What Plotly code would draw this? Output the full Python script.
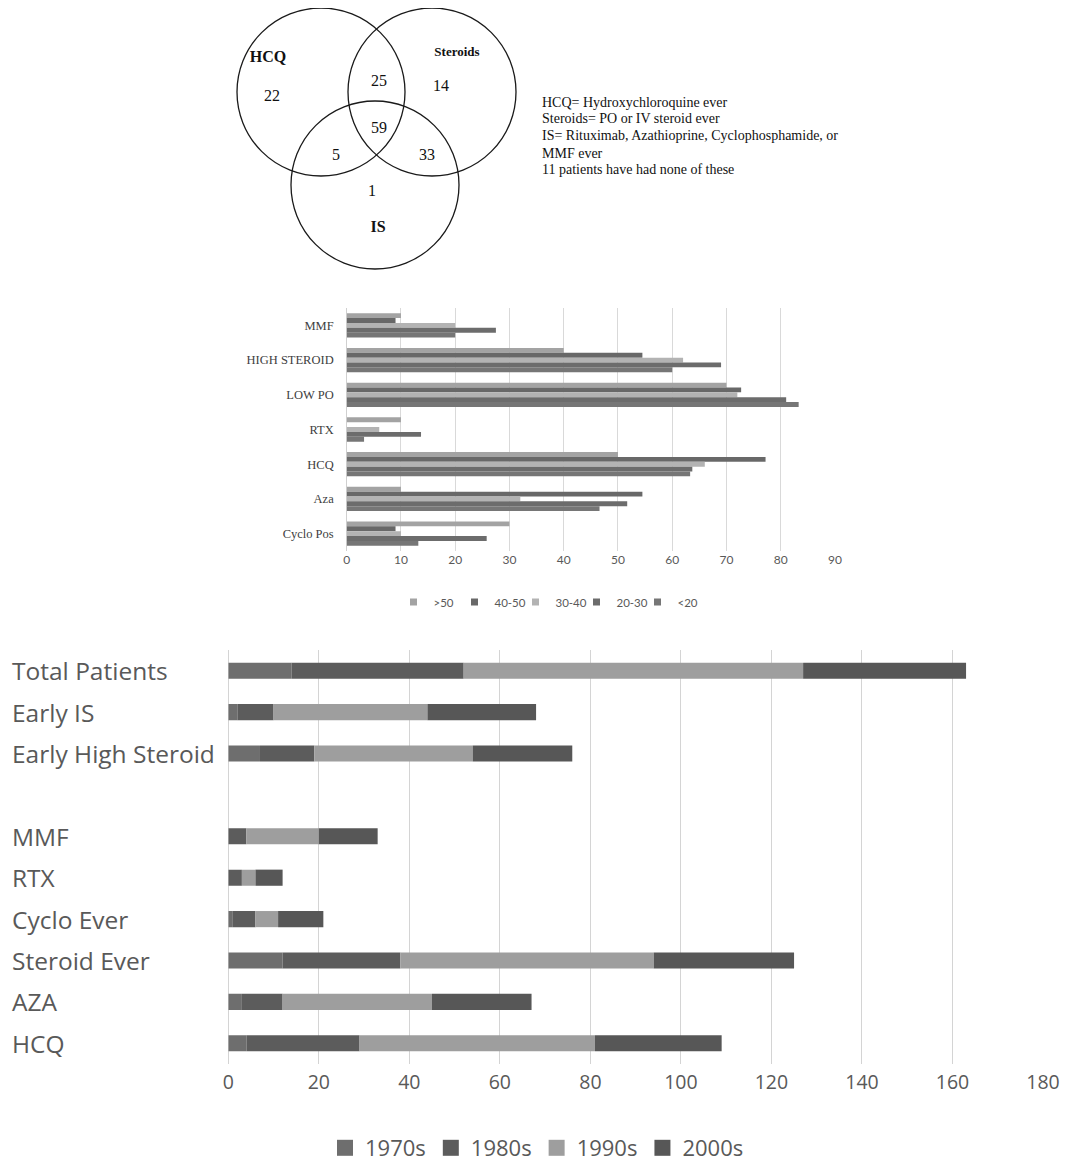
import plotly.graph_objects as go
import numpy as np

# ---------------- Venn diagram data ----------------
venn_set_labels = ["HCQ", "Steroids", "IS"]
venn_region_names = ["HCQ only", "HCQ+Steroids", "Steroids only", "All three",
                     "HCQ+IS", "Steroids+IS", "IS only"]
venn_counts = [22, 25, 14, 59, 5, 33, 1]
venn_notes = ["HCQ= Hydroxychloroquine ever",
              "Steroids= PO or IV steroid ever",
              "IS= Rituximab, Azathioprine, Cyclophosphamide, or",
              "MMF ever",
              "11 patients have had none of these"]

# ---------------- Middle chart (age groups) ----------------
drug_cats = ["MMF", "HIGH STEROID", "LOW PO", "RTX", "HCQ", "Aza", "Cyclo Pos"]
age_groups = [">50", "40-50", "30-40", "20-30", "<20"]
age_gt50 = [10, 40, 70, 10, 50, 10, 30]
age_40_50 = [9, 54.5, 72.7, 0, 77.2, 54.5, 9]
age_30_40 = [20, 62, 72, 6, 66, 32, 10]
age_20_30 = [27.5, 69, 81, 13.7, 63.7, 51.7, 25.8]
age_lt20 = [20, 60, 83.3, 3.2, 63.3, 46.6, 13.2]
age_ticks = [0, 10, 20, 30, 40, 50, 60, 70, 80, 90]

# ---------------- Bottom chart (decades, stacked) ----------------
decade_cats = ["Total Patients", "Early IS", "Early High Steroid", " ",
               "MMF", "RTX", "Cyclo Ever", "Steroid Ever", "AZA", "HCQ"]
decades = ["1970s", "1980s", "1990s", "2000s"]
d1970 = [14, 2, 7, 0, 0, 0, 1, 12, 3, 4]
d1980 = [38, 8, 12, 0, 4, 3, 5, 26, 9, 25]
d1990 = [75, 34, 35, 0, 16, 3, 5, 56, 33, 52]
d2000 = [36, 24, 22, 0, 13, 6, 10, 31, 22, 28]
decade_ticks = [0, 20, 40, 60, 80, 100, 120, 140, 160, 180]

# ---------------- geometry (screen pixels; page body has an 8px margin) ----------------
OFF = 8
FW, FH = 1052, 1154

def px_x(p):
    return (p - OFF) / FW

def px_y(p):
    return 1 - (p - OFF) / FH

circle_centers = [(321, 92), (432, 92), (375, 185)]
circle_r = 84
count_pos = [(272, 97), (379, 82), (441, 87), (379, 129), (336, 156), (427, 156), (372, 192)]
set_label_pos = [(268, 58), (457, 53), (378, 228)]
set_label_sizes = [16, 13, 16]
note_x = 540
note_y = [102, 118, 135, 153, 169]

age_colors = ["#a3a3a3", "#686868", "#b3b3b3", "#6c6c6c", "#767676"]
decade_colors = ["#6e6e6e", "#5c5c5c", "#9e9e9e", "#575757"]

fig = go.Figure()

# Venn in a hidden pixel-space axis pair
fig.add_trace(go.Scatter(
    x=[p[0] for p in count_pos], y=[p[1] for p in count_pos],
    text=[str(v) for v in venn_counts], mode="text",
    textfont=dict(family="Liberation Serif", size=16, color="#111111"),
    xaxis="x3", yaxis="y3", showlegend=False, hoverinfo="skip"))
fig.add_trace(go.Scatter(
    x=[p[0] for p in set_label_pos], y=[p[1] for p in set_label_pos],
    text=["<b>%s</b>" % s for s in venn_set_labels], mode="text",
    textfont=dict(family="Liberation Serif", size=set_label_sizes, color="#111111"),
    xaxis="x3", yaxis="y3", showlegend=False, hoverinfo="skip"))

shapes = []
for cx, cy in circle_centers:
    shapes.append(dict(type="circle", xref="x3", yref="y3",
                       x0=cx - circle_r, x1=cx + circle_r,
                       y0=cy - circle_r, y1=cy + circle_r,
                       line=dict(color="#1a1a1a", width=1.3)))

annotations = []
for t, yy in zip(venn_notes, note_y):
    annotations.append(dict(text=t, x=note_x, y=yy, xref="x3", yref="y3",
                            xanchor="left", yanchor="middle", showarrow=False,
                            font=dict(family="Liberation Serif", size=14, color="#111111")))

# Middle grouped bars
for name, vals, col in zip(age_groups, [age_gt50, age_40_50, age_30_40, age_20_30, age_lt20], age_colors):
    fig.add_trace(go.Bar(x=vals, y=drug_cats, orientation="h", name=name,
                         marker=dict(color=col, line=dict(width=0)),
                         xaxis="x", yaxis="y", showlegend=False))
    # legend key (small square)
    fig.add_trace(go.Scatter(x=[None], y=[None], mode="markers", name=name,
                             marker=dict(symbol="square", size=7, color=col),
                             xaxis="x", yaxis="y", legend="legend"))

# Bottom stacked bars (via base)
dec_arr = np.array([d1970, d1980, d1990, d2000], dtype=float)
bases = np.vstack([np.zeros(len(decade_cats)), np.cumsum(dec_arr, axis=0)[:-1]])
for name, vals, base, col in zip(decades, dec_arr, bases, decade_colors):
    fig.add_trace(go.Bar(x=vals, y=decade_cats, base=base, orientation="h", name=name,
                         marker=dict(color=col, line=dict(width=0)),
                         offsetgroup="dec", width=0.39,
                         xaxis="x2", yaxis="y2", showlegend=False))
    fig.add_trace(go.Scatter(x=[None], y=[None], mode="markers", name=name,
                             marker=dict(symbol="square", size=16, color=col),
                             xaxis="x2", yaxis="y2", legend="legend2"))

for c in decade_cats:
    if c.strip():
        annotations.append(dict(text=c, x=px_x(10), y=c, xref="paper", yref="y2",
                                xanchor="left", yanchor="middle", showarrow=False,
                                font=dict(family="Open Sans", size=24.5, color="#595959")))

fig.update_layout(
    template="none",
    width=FW, height=FH, autosize=False,
    margin=dict(l=0, r=0, t=0, b=0, pad=0, autoexpand=False),
    paper_bgcolor="white", plot_bgcolor="white",
    barmode="group", bargap=0.3, bargroupgap=0,
    shapes=shapes, annotations=annotations,
    xaxis3=dict(domain=[0, 1], range=[OFF, OFF + FW], visible=False, anchor="y3"),
    yaxis3=dict(domain=[px_y(270), 1], range=[270, OFF], visible=False, anchor="x3"),
    xaxis=dict(domain=[px_x(346.7), px_x(835)], range=[0, 90], tickvals=age_ticks,
               showgrid=True, gridcolor="#d9d9d9", gridwidth=1,
               zeroline=True, zerolinecolor="#d0d0d0", zerolinewidth=1,
               showline=False, ticks="",
               tickfont=dict(family="Lato", size=12, color="#595959"),
               anchor="y", automargin=False),
    yaxis=dict(domain=[px_y(551), px_y(308)], autorange="reversed",
               tickfont=dict(family="Liberation Serif", size=12.5, color="#404040"),
               ticklabelstandoff=12, showgrid=False, zeroline=False, showline=False,
               ticks="", anchor="x", automargin=False),
    xaxis2=dict(domain=[px_x(228.3), px_x(1043)], range=[0, 180], tickvals=decade_ticks,
                showgrid=True, gridcolor="#d4d4d4", gridwidth=1.3,
                zeroline=True, zerolinecolor="#d4d4d4", zerolinewidth=1.3,
                showline=False, ticks="",
                tickfont=dict(family="Open Sans", size=19.5, color="#595959"),
                ticklabelstandoff=4, anchor="y2", automargin=False),
    yaxis2=dict(domain=[px_y(1064), px_y(650)], autorange="reversed",
                categoryorder="array", categoryarray=decade_cats,
                showticklabels=False, showgrid=False, zeroline=False, showline=False,
                ticks="", anchor="x2", automargin=False),
    legend=dict(orientation="h", x=px_x(546), y=px_y(602), xanchor="center", yanchor="middle",
                font=dict(family="Lato", size=11.5, color="#595959"), itemwidth=30,
                entrywidth=16, entrywidthmode="pixels",
                bgcolor="rgba(0,0,0,0)"),
    legend2=dict(orientation="h", x=px_x(537), y=px_y(1148), xanchor="center", yanchor="middle",
                 font=dict(family="Open Sans", size=22, color="#595959"),
                 itemwidth=30, bgcolor="rgba(0,0,0,0)"),
)

fig.write_html("out.html")
